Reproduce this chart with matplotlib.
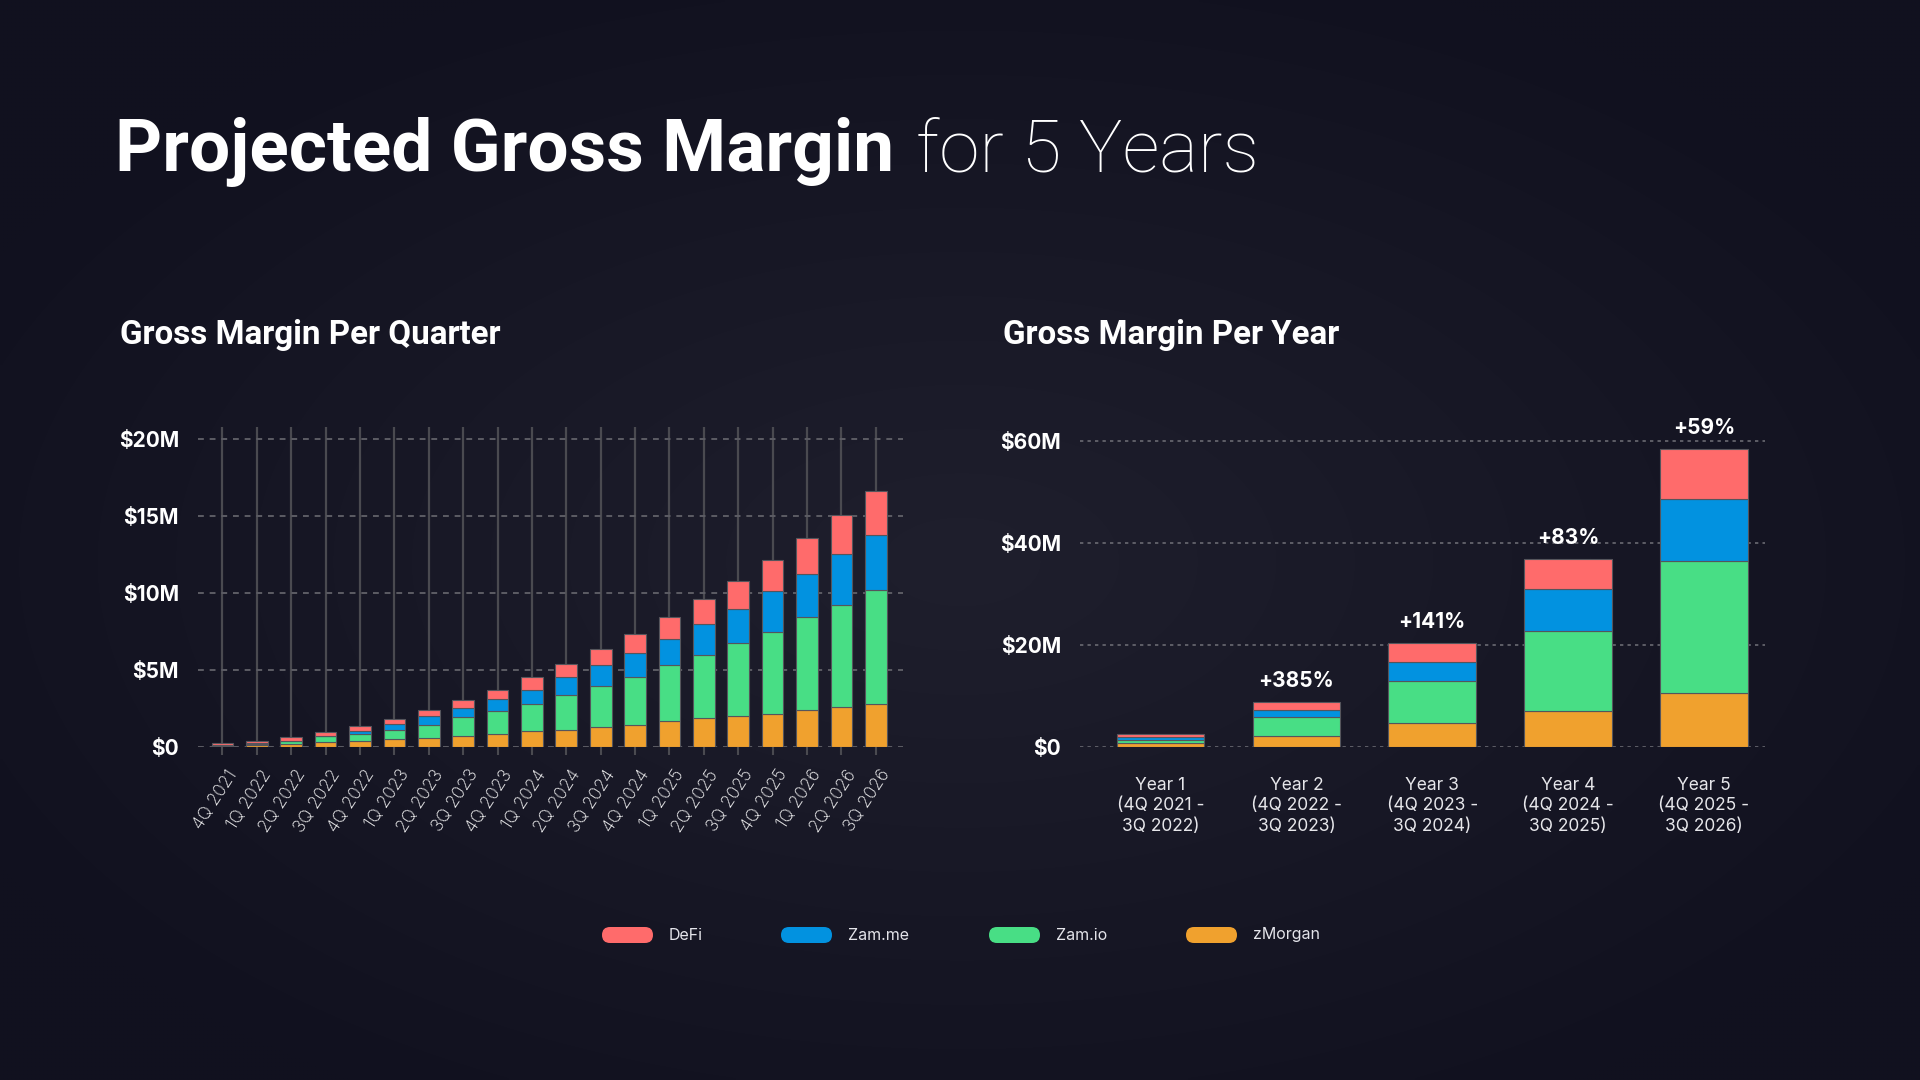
import matplotlib.pyplot as plt
import numpy as np
from matplotlib.patches import FancyBboxPatch
from matplotlib.transforms import ScaledTranslation

# -------------------------------
# data (values in $M)
# -------------------------------
quarters = ['4Q 2021', '1Q 2022', '2Q 2022', '3Q 2022', '4Q 2022',
            '1Q 2023', '2Q 2023', '3Q 2023', '4Q 2023', '1Q 2024',
            '2Q 2024', '3Q 2024', '4Q 2024', '1Q 2025', '2Q 2025',
            '3Q 2025', '4Q 2025', '1Q 2026', '2Q 2026', '3Q 2026']
q_zmorgan = [0.04, 0.08, 0.18, 0.30, 0.35, 0.48, 0.56, 0.69, 0.82, 1.00,
             1.08, 1.30, 1.43, 1.65, 1.84, 2.02, 2.15, 2.39, 2.58, 2.80]
q_zamio = [0.04, 0.12, 0.17, 0.37, 0.48, 0.61, 0.85, 1.24, 1.50, 1.78,
           2.28, 2.65, 3.10, 3.67, 4.12, 4.73, 5.31, 6.05, 6.64, 7.40]
q_zamme = [0.02, 0.02, 0.02, 0.02, 0.20, 0.37, 0.61, 0.59, 0.76, 0.91,
           1.15, 1.34, 1.58, 1.69, 2.00, 2.19, 2.67, 2.78, 3.30, 3.58]
q_defi = [0.12, 0.15, 0.26, 0.26, 0.30, 0.33, 0.37, 0.50, 0.61, 0.82,
          0.87, 1.04, 1.24, 1.43, 1.67, 1.84, 2.02, 2.36, 2.56, 2.86]

years = ['Year 1\n(4Q 2021 -\n3Q 2022)', 'Year 2\n(4Q 2022 -\n3Q 2023)',
         'Year 3\n(4Q 2023 -\n3Q 2024)', 'Year 4\n(4Q 2024 -\n3Q 2025)',
         'Year 5\n(4Q 2025 -\n3Q 2026)']
y_zmorgan = [0.66, 2.11, 4.61, 7.04, 10.46]
y_zamio = [0.72, 3.75, 8.36, 15.79, 25.99]
y_zamme = [0.53, 1.38, 3.75, 8.09, 12.24]
y_defi = [0.66, 1.64, 3.75, 5.99, 9.87]
growth = ['', '+385%', '+141%', '+83%', '+59%']

series = ['DeFi', 'Zam.me', 'Zam.io', 'zMorgan']
colors = {'DeFi': '#ff6b6b', 'Zam.me': '#0292e0', 'Zam.io': '#48de85', 'zMorgan': '#f0a12e'}

plt.rcParams['font.family'] = ['Inter', 'DejaVu Sans']

W, H = 1920, 1080
fig = plt.figure(figsize=(19.2, 10.8), dpi=100)
fig.patch.set_facecolor('#12121f')


def rect(x0, y0, x1, y1):
    # pixel box (y down) -> figure fraction
    return [x0 / W, 1 - y1 / H, (x1 - x0) / W, (y1 - y0) / H]


# -------------------------------
# background with soft glow
# -------------------------------
bg = fig.add_axes([0, 0, 1, 1], zorder=-1)
bg.set_xlim(0, W)
bg.set_ylim(H, 0)
bg.axis('off')
yy, xx = np.mgrid[0:H:4, 0:W:4]
r = np.clip(np.sqrt(((xx - 960) / 1100) ** 2 + ((yy - 560) / 620) ** 2), 0, 1)
c0 = np.array([0x1f, 0x1f, 0x2d]) / 255
c1 = np.array([0x11, 0x11, 0x1f]) / 255
img = c0 * (1 - r[..., None]) + c1 * r[..., None]
bg.imshow(img, extent=(0, W, H, 0), aspect='auto', interpolation='bilinear')

# title
t1 = bg.text(115, 171, 'Projected Gross Margin', color='white', fontsize=52.7,
             fontweight='bold', family=['Roboto', 'DejaVu Sans'], va='baseline')
renderer = fig.canvas.get_renderer()
bb = t1.get_window_extent(renderer)
bg.text(bb.x1 + 22, 171, 'for 5 Years', color='white', fontsize=52.7,
        fontweight='light', family=['Roboto', 'DejaVu Sans'], va='baseline')

bg.text(120, 344, 'Gross Margin Per Quarter', color='white', fontsize=23.9,
        fontweight='bold', family=['Roboto', 'DejaVu Sans'], va='baseline')
bg.text(1003, 344, 'Gross Margin Per Year', color='white', fontsize=23.9,
        fontweight='bold', family=['Roboto', 'DejaVu Sans'], va='baseline')

# legend
pill_x = [602, 781, 989, 1186]
for name, px in zip(series, pill_x):
    bg.add_patch(FancyBboxPatch((px, 927), 51, 16, boxstyle='round,pad=0,rounding_size=8',
                                facecolor=colors[name], edgecolor='none'))
    bg.text(px + 67, 935, name, color='#e4e4ea', fontsize=11.5, va='center', ha='left')

stack = [('zMorgan', q_zmorgan), ('Zam.io', q_zamio), ('Zam.me', q_zamme), ('DeFi', q_defi)]
ystack = [('zMorgan', y_zmorgan), ('Zam.io', y_zamio), ('Zam.me', y_zamme), ('DeFi', y_defi)]


def money(v):
    return '$0' if v == 0 else f'${v:.0f}M'


# -------------------------------
# left: per quarter
# -------------------------------
ax1 = fig.add_axes(rect(198, 426.7, 903, 746.7))
ax1.set_facecolor('none')
xq = np.arange(len(quarters))
bottom = np.zeros(len(quarters))
for name, vals in stack:
    ax1.bar(xq, vals, 0.63, bottom=bottom, color=colors[name],
            edgecolor='#55555c', linewidth=0.8, zorder=3)
    bottom += np.array(vals)
ax1.set_xlim(-0.71, 19.79)
ax1.set_ylim(0, 20.82)
ax1.set_axisbelow(True)
ax1.grid(axis='x', color='#4a4a50', lw=1.6)
ax1.grid(axis='y', color='#5c5c64', lw=1.4, ls=(0, (3, 3)))
for s in ax1.spines.values():
    s.set_visible(False)
yt = [0, 5, 10, 15, 20]
ax1.set_yticks(yt, labels=[money(v) for v in yt], fontweight='bold', fontsize=15, color='white')
ax1.tick_params(axis='y', length=0, pad=13.7)
ax1.set_xticks(xq, labels=quarters, rotation=57, ha='right', va='center',
               rotation_mode='anchor', fontsize=12.5, color='white', fontweight='light')
ax1.tick_params(axis='x', length=5.8, width=1.5, color='#4a4a50', pad=12)
for lab in ax1.get_xticklabels():
    lab.set_transform(lab.get_transform() + ScaledTranslation(0.11, 0, fig.dpi_scale_trans))

# -------------------------------
# right: per year
# -------------------------------
ax2 = fig.add_axes(rect(1080, 431.2, 1765, 746.7))
ax2.set_facecolor('none')
xy = np.arange(len(years))
bottom = np.zeros(len(years))
for name, vals in ystack:
    ax2.bar(xy, vals, 0.646, bottom=bottom, color=colors[name],
            edgecolor='#55555c', linewidth=0.8, zorder=3)
    bottom += np.array(vals)
for i, lbl in enumerate(growth):
    if lbl:
        ax2.annotate(lbl, (xy[i], bottom[i]), xytext=(0, 15), textcoords='offset points',
                     ha='center', va='center', color='white', fontsize=15,
                     fontweight='bold', annotation_clip=False)
ax2.set_xlim(-0.593, 4.45)
ax2.set_ylim(0, 62)
ax2.set_axisbelow(True)
ax2.grid(axis='y', color='#6a6a72', lw=1.2, ls=(0, (2, 2.5)))
for s in ax2.spines.values():
    s.set_visible(False)
yt2 = [0, 20, 40, 60]
ax2.set_yticks(yt2, labels=[money(v) for v in yt2], fontweight='bold', fontsize=15, color='white')
ax2.tick_params(axis='y', length=0, pad=13.7)
ax2.set_xticks(xy, labels=years, fontsize=12.5, color='#e6e6ea', linespacing=1.27)
ax2.tick_params(axis='x', length=0, pad=21.5)

fig.savefig('out.png', dpi=100, facecolor=fig.get_facecolor())
